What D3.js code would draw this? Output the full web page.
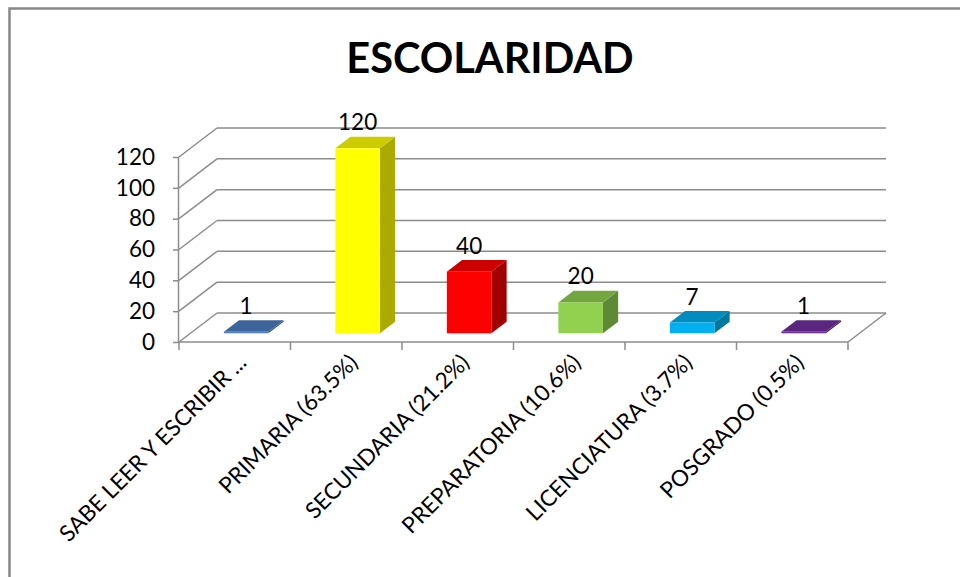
<!DOCTYPE html>
<html>
<head>
<meta charset="utf-8">
<title>escolaridad</title>
<script src="https://cdn.jsdelivr.net/npm/d3@7"></script>
<style>
body{margin:0;background:#fff;}
text{font-family:Lato,"Open Sans",sans-serif;fill:#000;}
</style>
</head>
<body>
<script>
// datos
var categorias = ["SABE LEER Y ESCRIBIR ...","PRIMARIA (63.5%)","SECUNDARIA (21.2%)","PREPARATORIA (10.6%)","LICENCIATURA (3.7%)","POSGRADO (0.5%)"];
var valores = [1,120,40,20,7,1];
var ticks = [0,20,40,60,80,100,120];
var colores = [
  {front:"#4F81BD", top:"#3D659B", side:"#35588A"},
  {front:"#FFFF00", top:"#CCCC00", side:"#AAAA00"},
  {front:"#FF0000", top:"#CC0000", side:"#A00000"},
  {front:"#92D050", top:"#74A640", side:"#5E8A35"},
  {front:"#00B0F0", top:"#008CBF", side:"#00779F"},
  {front:"#7030A0", top:"#5A2680", side:"#4A1F6A"}
];

var width = 960, height = 577;
var depth = {dx:38, dy:-29};   // profundidad del piso
var f0 = 0.3, f1 = 0.7;        // donde va la barra dentro de la profundidad

var svg = d3.select("body").append("svg")
  .attr("width",width).attr("height",height);

// marco
svg.append("path")
  .attr("d","M9.5,577 L9.5,8.5 L960,8.5")
  .attr("fill","none").attr("stroke","#888").attr("stroke-width",2.5);

svg.append("text")
  .attr("x",490).attr("y",73)
  .attr("text-anchor","middle")
  .style("font-size","41.5px").style("font-weight","bold")
  .text("ESCOLARIDAD");

var x = d3.scaleBand().domain(categorias).range([179,848]).padding(0);
var y = d3.scaleLinear().domain([0,120]).range([342,157]);

var grid = svg.append("g").attr("stroke","#8c8c8c").attr("stroke-width",1.5).attr("fill","none");

// pared de fondo + diagonales
ticks.forEach(function(t){
  grid.append("line")
    .attr("x1",179).attr("y1",y(t))
    .attr("x2",179+depth.dx).attr("y2",y(t)+depth.dy);
  grid.append("line")
    .attr("x1",179+depth.dx).attr("y1",y(t)+depth.dy)
    .attr("x2",848+depth.dx).attr("y2",y(t)+depth.dy);
});
// piso
grid.append("line").attr("x1",848).attr("y1",y(0)).attr("x2",848+depth.dx).attr("y2",y(0)+depth.dy);

// eje y
var yAxis = d3.axisLeft(y).tickValues(ticks).tickSize(6).tickPadding(18);
var gy = svg.append("g").attr("transform","translate(179,0)").call(yAxis);
gy.select(".domain").attr("stroke","#8c8c8c").attr("stroke-width",1.5).attr("d","M-0.5,"+y(0)+"V"+y(120));
gy.selectAll(".tick line").attr("stroke","#8c8c8c").attr("stroke-width",1.5);
gy.selectAll(".tick text").style("font-size","22.5px").attr("fill","#000").attr("font-family","Lato");

// eje x
var gx = svg.append("g");
gx.append("line").attr("x1",179).attr("x2",848).attr("y1",y(0)).attr("y2",y(0))
  .attr("stroke","#8c8c8c").attr("stroke-width",1.5);
d3.range(categorias.length+1).forEach(function(i){
  var xx = 179 + i*x.step();
  gx.append("line").attr("x1",xx).attr("x2",xx).attr("y1",y(0)).attr("y2",y(0)+8)
    .attr("stroke","#8c8c8c").attr("stroke-width",1.5);
});
gx.selectAll("text.cat").data(categorias).enter().append("text")
  .attr("class","cat")
  .attr("text-anchor","end")
  .style("font-size","22.5px")
  .attr("transform",function(d){
    var cx = x(d)+x.bandwidth()/2 + 13;
    return "translate("+cx+",364) rotate(-45)";
  })
  .text(function(d){return d;});

// barras 3d
var bw = x.bandwidth()*0.4;
var bars = svg.selectAll("g.bar").data(valores).enter().append("g").attr("class","bar");
bars.each(function(v,i){
  var g = d3.select(this);
  var c = colores[i];
  var cx = x(categorias[i])+x.bandwidth()/2;
  var xl = cx - bw/2 + depth.dx*f0, xr = xl + bw;
  var yb = y(0) + depth.dy*f0, yt = y(v) + depth.dy*f0;
  var ddx = depth.dx*(f1-f0), ddy = depth.dy*(f1-f0);
  g.append("path").attr("fill",c.side)
    .attr("d","M"+xr+","+yb+"L"+(xr+ddx)+","+(yb+ddy)+"L"+(xr+ddx)+","+(yt+ddy)+"L"+xr+","+yt+"Z");
  g.append("path").attr("fill",c.top)
    .attr("d","M"+xl+","+yt+"L"+xr+","+yt+"L"+(xr+ddx)+","+(yt+ddy)+"L"+(xl+ddx)+","+(yt+ddy)+"Z");
  g.append("rect").attr("fill",c.front)
    .attr("x",xl).attr("y",yt).attr("width",bw).attr("height",Math.max(0,yb-yt));
  g.append("text")
    .attr("x",cx + depth.dx*f0).attr("y",yt-18)
    .attr("text-anchor","middle")
    .style("font-size","22.5px")
    .text(v);
});
</script>
</body>
</html>
